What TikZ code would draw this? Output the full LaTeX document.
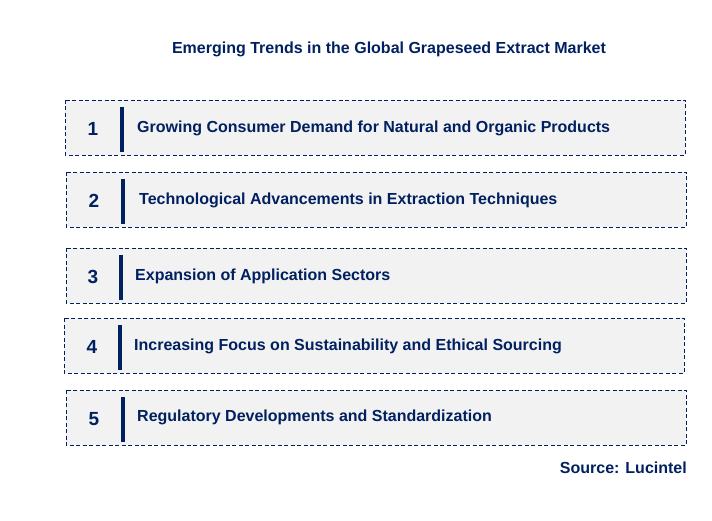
\documentclass[tikz,border=0pt]{standalone}
\usepackage{fontspec}
\setmainfont{Liberation Sans}
\definecolor{navy}{HTML}{002060}
\definecolor{boxfill}{HTML}{F2F2F2}
\begin{document}
\begin{tikzpicture}[x=1pt,y=-1pt,
  trendbox/.style={draw=navy, fill=boxfill, line width=0.9pt, dash pattern=on 4pt off 2.5pt},
  bar/.style={fill=navy, draw=none},
  num/.style={text=navy, font=\bfseries\fontsize{19}{22}\selectfont, anchor=center},
  label/.style={text=navy, font=\bfseries\fontsize{16}{19}\selectfont, anchor=west, inner sep=0pt},
  ttl/.style={text=navy, font=\bfseries\fontsize{16}{19}\selectfont, inner sep=0pt}]
\useasboundingbox (0,0) rectangle (712,521);
\node[ttl] (title) at (389,49) {Emerging Trends in the Global Grapeseed Extract Market};
% box 1
\draw[trendbox] (65,100) rectangle (685,155);
\fill[bar] (120,107) rectangle (124,152);
\node[num] (n1) at (93,129) {1};
\node[label] (t1) at (137,128) {Growing Consumer Demand for Natural and Organic Products};
% box 2
\draw[trendbox] (66,172) rectangle (686,227);
\fill[bar] (121,179) rectangle (125,224);
\node[num] (n2) at (94,201) {2};
\node[label] (t2) at (139,200) {Technological Advancements in Extraction Techniques};
% box 3
\draw[trendbox] (66,248) rectangle (686,303);
\fill[bar] (119,255) rectangle (123,300);
\node[num] (n3) at (93,277) {3};
\node[label] (t3) at (135,276) {Expansion of Application Sectors};
% box 4
\draw[trendbox] (64,318) rectangle (684,373);
\fill[bar] (118,325) rectangle (122,370);
\node[num] (n4) at (92,347) {4};
\node[label] (t4) at (134,346) {Increasing Focus on Sustainability and Ethical Sourcing};
% box 5
\draw[trendbox] (66,390) rectangle (686,445);
\fill[bar] (121,397) rectangle (125,442);
\node[num] (n5) at (94,419) {5};
\node[label] (t5) at (137,417) {Regulatory Developments and Standardization};
\node[ttl, anchor=east] (src) at (687,468) {Source: Lucintel};
\end{tikzpicture}
\end{document}
